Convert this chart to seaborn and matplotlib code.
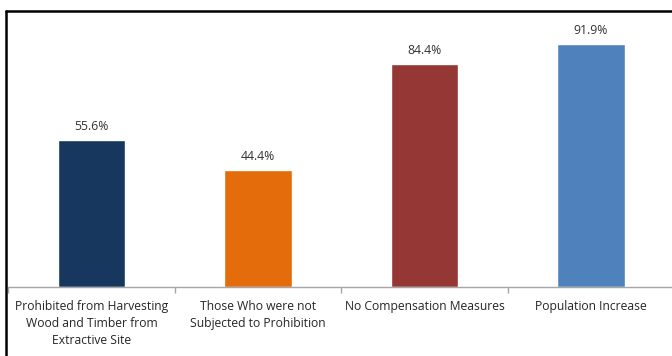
import matplotlib
matplotlib.use("Agg")
import matplotlib.pyplot as plt
import seaborn as sns
import pandas as pd
from matplotlib.lines import Line2D

categories = [
    "Prohibited from Harvesting\nWood and Timber from\nExtractive Site",
    "Those Who were not\nSubjected to Prohibition",
    "No Compensation Measures",
    "Population Increase",
]
values = [55.6, 44.4, 84.4, 91.9]
labels = ["55.6%", "44.4%", "84.4%", "91.9%"]
colors = ["#17375E", "#E46C0A", "#953735", "#4F81BD"]

sns.set_theme(style="white")
plt.rcParams["font.family"] = ["Open Sans", "DejaVu Sans"]

W, H = 672, 356
fig = plt.figure(figsize=(W / 100, H / 100), dpi=100)
left = 8.25 / W
right = 674.25 / W
bottom = 1 - 287 / H
top = 1 - 22.6 / H
ax = fig.add_axes([left, bottom, right - left, top - bottom])

df = pd.DataFrame({"cat": categories, "val": values})
sns.barplot(data=df, x="cat", y="val", hue="cat", palette=colors,
            width=0.405, legend=False, ax=ax, saturation=1)

ax.set_xlim(-0.5, 3.5)
ax.set_ylim(0, 100)
for i, (v, t) in enumerate(zip(values, labels)):
    ax.text(i, v + 2.6, t, ha="center", va="bottom", fontsize=8.8,
            color="#333333")

for s in ["top", "right", "left"]:
    ax.spines[s].set_visible(False)
ax.spines["bottom"].set_color("#a6a6a6")
ax.spines["bottom"].set_linewidth(1)
ax.set_yticks([])
ax.set_xlabel("")
ax.set_ylabel("")
ax.set_xticks(range(4))
ax.set_xticklabels(categories, fontsize=8.7, color="#262626", linespacing=1.38)
ax.tick_params(axis="x", which="major", length=0, pad=9.5)
ax.set_xticks([-0.5, 0.5, 1.5, 2.5, 3.5], minor=True)
ax.tick_params(axis="x", which="minor", length=4, color="#a6a6a6",
               direction="out", bottom=True)

# outer frame (top and left only)
fy = 1 - 11 / H
fx = 6 / W
fig.add_artist(Line2D([fx, 1], [fy, fy], color="black", lw=1.8,
                      transform=fig.transFigure))
fig.add_artist(Line2D([fx, fx], [0, fy], color="black", lw=1.8,
                      transform=fig.transFigure))

fig.savefig("out.png", dpi=100)
